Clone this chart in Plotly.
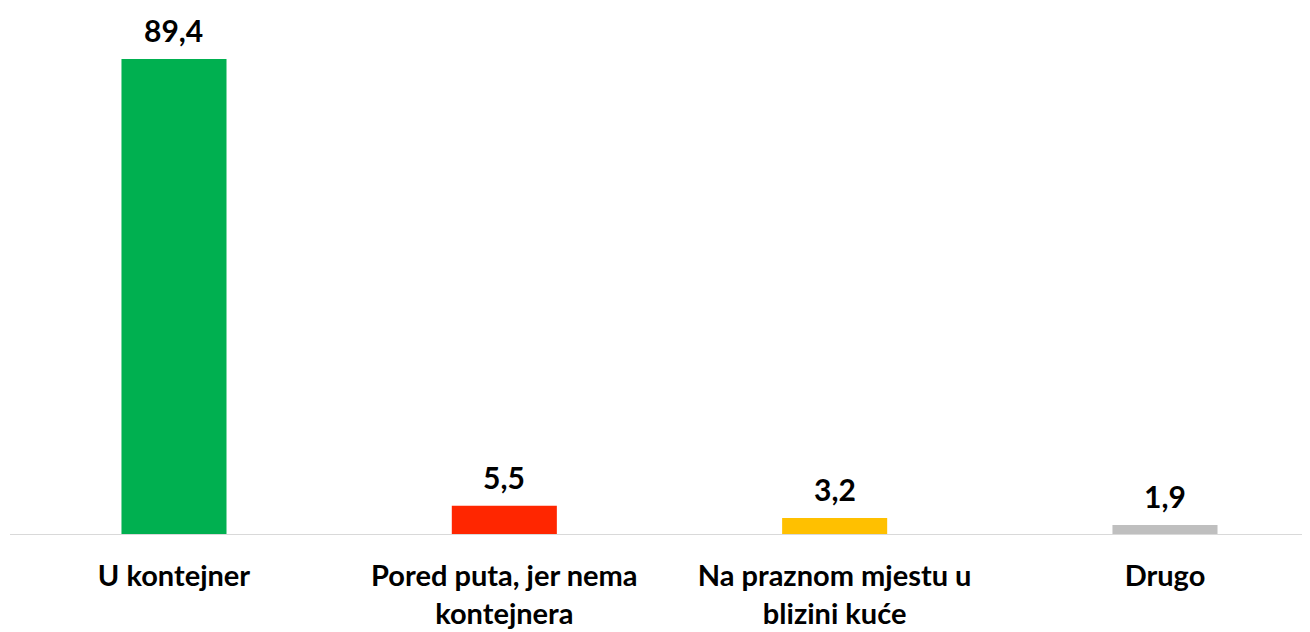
import plotly.graph_objects as go

categories = ["U kontejner", "Pored puta, jer nema<br>kontejnera", "Na praznom mjestu u<br>blizini kuće", "Drugo"]
values = [89.4, 5.5, 3.2, 1.9]
labels = ["89,4", "5,5", "3,2", "1,9"]
colors = ["#00B050", "#FF2600", "#FFC000", "#BFBFBF"]

x = list(range(len(categories)))

fig = go.Figure()
fig.add_trace(go.Bar(
    x=x, y=values, width=0.318,
    marker=dict(color=colors, line=dict(width=0)),
    hoverinfo="skip",
))

for xi, v, lab in zip(x, values, labels):
    fig.add_annotation(x=xi, y=v, text="<b>" + lab + "</b>", showarrow=False,
                       yanchor="bottom", yshift=10, borderpad=0,
                       font=dict(family="Lato", size=30, color="#000000"))

fig.add_shape(type="line", xref="paper", yref="y", x0=2/1302, x1=1.0, y0=0, y1=0,
              line=dict(color="#D9D9D9", width=2))

fig.update_layout(
    width=1302, height=624,
    margin=dict(l=0, r=0, t=30, b=97),
    plot_bgcolor="white", paper_bgcolor="white",
    showlegend=False,
    xaxis=dict(range=[-0.5025, 3.439], tickmode="array", tickvals=x,
               ticktext=["<b>" + c.replace("<br>", "</b><br><b>") + "</b>" for c in categories],
               tickfont=dict(family="Lato", size=29, color="#000000"),
               ticklabelstandoff=21,
               showgrid=False, zeroline=False, showline=False, ticks=""),
    yaxis=dict(range=[0, 93.35], visible=False, showgrid=False, zeroline=False),
)

fig.write_html("out.html")
